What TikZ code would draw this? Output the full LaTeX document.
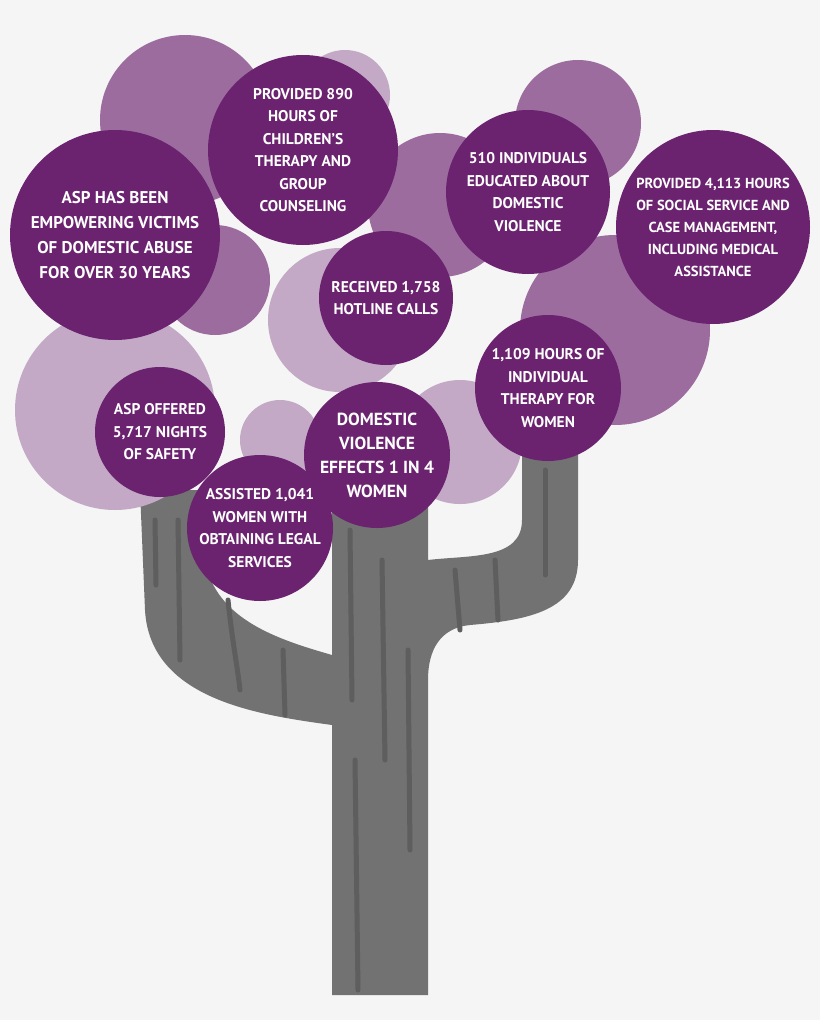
\documentclass[tikz,border=0pt]{standalone}
\usepackage{fontspec}
\setmainfont{PT Sans}
\definecolor{bg}{HTML}{F5F5F5}
\definecolor{dk}{HTML}{6B2370}
\definecolor{md}{HTML}{9C6C9F}
\definecolor{lt}{HTML}{C3A9C5}
\definecolor{tr}{HTML}{727272}
\definecolor{trd}{HTML}{5E5E5E}
\begin{document}
\begin{tikzpicture}[x=1pt,y=-1pt,
  bub/.style={circle,fill=dk,text=white,align=center,inner sep=0pt,
    font=\bfseries\fontsize{15.5}{22.5}\selectfont},
  streak/.style={draw=trd,line width=5pt,line cap=round}]
\fill[bg] (0,0) rectangle (820,1020);
\useasboundingbox (0,0) rectangle (820,1020);
% trunk
\fill[tr] (332,470) -- (428,470) -- (428,560)
  .. controls (470,555) and (522,560) .. (522,520) -- (522,450) -- (578,450) -- (578,560)
  .. controls (578,610) and (530,620) .. (470,625) .. controls (440,628) and (428,650) .. (428,680)
  -- (428,995) -- (332,995) -- (332,725)
  .. controls (260,715) and (150,700) .. (145,610) -- (140,490) -- (200,490) -- (205,560)
  .. controls (215,620) and (280,640) .. (332,655) -- cycle;
\draw[streak] (350,530) -- (352,700);
\draw[streak] (355,760) -- (358,990);
\draw[streak] (382,560) -- (385,760);
\draw[streak] (408,650) -- (410,850);
\draw[streak] (178,520) -- (180,660);
\draw[streak] (228,600) .. controls (232,640) and (238,670) .. (240,690);
\draw[streak] (283,650) -- (285,715);
\draw[streak] (545,470) -- (545,575);
\draw[streak] (495,560) -- (498,620);
\draw[streak] (455,570) -- (460,630);
\draw[streak] (155,520) -- (156,585);
% background bubbles
\fill[md] (185,120) circle (85);
\fill[lt] (345,95) circle (45);
\fill[md] (578,123) circle (63);
\fill[md] (440,205) circle (72);
\fill[md] (215,280) circle (55);
\fill[lt] (340,320) circle (72);
\fill[md] (615,330) circle (95);
\fill[lt] (115,410) circle (100);
\fill[lt] (280,440) circle (40);
\fill[lt] (460,442) circle (62);
% text bubbles
\node[bub,minimum size=210,font=\bfseries\fontsize{17}{25}\selectfont] (a) at (115,235) {ASP HAS BEEN\\EMPOWERING VICTIMS\\OF DOMESTIC ABUSE\\FOR OVER 30 YEARS};
\node[bub,minimum size=190] (b) at (303,150) {PROVIDED 890\\HOURS OF\\CHILDREN'S\\THERAPY AND\\GROUP\\COUNSELING};
\node[bub,minimum size=164] (c) at (528,192) {510 INDIVIDUALS\\EDUCATED ABOUT\\DOMESTIC\\VIOLENCE};
\node[bub,minimum size=194,font=\bfseries\fontsize{14.5}{22}\selectfont] (d) at (713,227) {PROVIDED 4,113 HOURS\\OF SOCIAL SERVICE AND\\CASE MANAGEMENT,\\INCLUDING MEDICAL\\ASSISTANCE};
\node[bub,minimum size=134] (e) at (386,298) {RECEIVED 1,758\\HOTLINE CALLS};
\node[bub,minimum size=146] (f) at (548,388) {1,109 HOURS OF\\INDIVIDUAL\\THERAPY FOR\\WOMEN};
\node[bub,minimum size=130] (g) at (160,432) {ASP OFFERED\\5,717 NIGHTS\\OF SAFETY};
\node[bub,minimum size=146,font=\bfseries\fontsize{17.5}{24}\selectfont] (h) at (377,455) {DOMESTIC\\VIOLENCE\\EFFECTS 1 IN 4\\WOMEN};
\node[bub,minimum size=146] (i) at (260,528) {ASSISTED 1,041\\WOMEN WITH\\OBTAINING LEGAL\\SERVICES};
\end{tikzpicture}
\end{document}
